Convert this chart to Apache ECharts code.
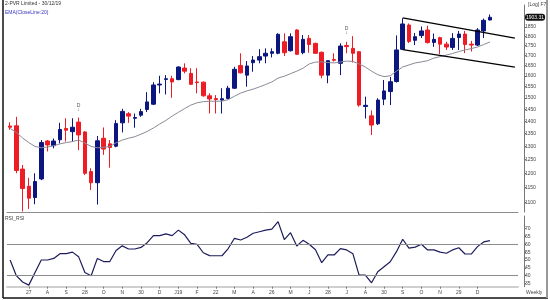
<!DOCTYPE html>
<html><head><meta charset="utf-8">
<script src="https://cdn.jsdelivr.net/npm/echarts@6/dist/echarts.min.js"></script>
<style>html,body{margin:0;padding:0;background:#fff}#c{width:550px;height:300px}</style>
</head><body><div id="c"></div>
<script>
// ---- data (weekly candles) ----
const openP  = [1380,1381,1215,1155,1117,1180,1320,1302,1325,1370,
                1357,1396,1356,1206,1167,1331,1309,1300,1393,1431,
                1412,1425,1449,1472,1558,1584,1587,1583,1638,1612,
                1572,1571,1509,1497,1490,1497,1543,1650,1604,1664,
                1677,1697,1711,1711,1770,1724,1833,1714,1788,1762,
                1716,1604,1680,1661,1751,1736,1719,1462,1422,1389,
                1494,1528,1574,1731,1860,1778,1803,1833,1767,1792,
                1758,1741,1793,1811,1758,1753,1828,1888];
const closeP = [1375,1210,1147,1115,1171,1314,1305,1320,1366,1363,
                1375,1344,1200,1167,1321,1289,1295,1390,1441,1421,
                1415,1440,1482,1558,1562,1587,1572,1643,1623,1561,
                1569,1509,1495,1492,1496,1543,1632,1615,1648,1677,
                1694,1711,1719,1810,1714,1797,1706,1783,1756,1711,
                1604,1674,1676,1748,1745,1711,1468,1467,1384,1490,
                1531,1573,1728,1866,1772,1797,1828,1766,1783,1758,
                1743,1788,1811,1756,1753,1833,1886,1903.31];
const lowP   = [1365,1200,1072,1080,1095,1176,1280,1292,1311,1318,
                1318,1285,1194,1142,1094,1267,1220,1296,1354,1393,
                1373,1418,1438,1468,1520,1515,1500,1580,1612,1558,
                1520,1505,1432,1432,1432,1494,1540,1612,1550,1620,
                1661,1661,1690,1706,1697,1720,1702,1706,1714,1708,
                1589,1566,1670,1604,1711,1665,1461,1411,1344,1384,
                1468,1468,1569,1728,1763,1753,1790,1761,1744,1707,
                1728,1728,1728,1712,1720,1748,1790,1886];
const highP  = [1395,1418,1230,1184,1200,1324,1324,1330,1393,1412,
                1412,1415,1359,1218,1340,1374,1324,1404,1452,1438,
                1432,1452,1525,1571,1601,1604,1601,1646,1661,1637,
                1637,1574,1520,1512,1543,1554,1644,1711,1672,1697,
                1732,1736,1736,1815,1815,1815,1837,1806,1806,1765,
                1720,1677,1711,1762,1770,1800,1722,1505,1445,1498,
                1581,1595,1804,1898,1869,1817,1852,1856,1814,1797,
                1770,1816,1828,1828,1775,1843,1896,1919];
const ema20  = [1370,1354,1332,1314,1299,1294,1297,1302,1309,1314,
                1318,1324,1312,1299,1294,1296,1299,1313,1324,1331,
                1337,1347,1358,1372,1388,1403,1421,1437,1453,1468,
                1478,1483,1485,1485,1485,1492,1507,1521,1531,1539,
                1549,1560,1572,1590,1599,1611,1623,1637,1658,1667,
                1668,1665,1663,1668,1672,1670,1658,1643,1623,1606,
                1597,1601,1623,1643,1653,1663,1668,1674,1687,1694,
                1702,1710,1720,1728,1735,1743,1756,1769];
const rsi    = [50,40,36,34,42,50,50,51,54,54,
                55,52,42,40,51,49,49,56,59,57,
                57,58,61,65.5,65.5,66.6,65.5,69,66,60.6,
                60,54.6,52.8,52.7,52.7,57.3,63.8,62.7,64.5,67,
                68,69,69.7,74.4,63,67.4,58.9,62.5,60,56.5,
                48.3,53.2,53.2,57.2,56.4,54,40.4,40.4,35.5,42.5,
                45.7,48.9,55.3,63.2,57.5,58.2,60,56.4,56.4,55,
                54.3,56.4,57.8,53.8,53.8,58.5,61.5,62.3];
const tickLabels = ['27','A','S','28','O','N','30','D','J19','F','22','M','A','26','M','J','28','J','A','30','S','O','N','29','D'];
const tickFirst = 3, tickStep = 3;
const priceTicks = [1100,1150,1200,1250,1300,1350,1400,1450,1500,1550,1600,1650,1700,1750,1800,1850];
const rsiTicks = [35,40,45,50,55,60,65,70];
const rsiLevels = [40,60];
const upperTrend = [[63,1900],[81,1790]];
const lowerTrend = [[63,1730],[81,1642]];
const divMarkers = [[11,1457],[54,1830]];
const extraSlots = 4;
const priceMin = 1070.2, priceMax = 1973.6;
const rsiMin = 33, rsiMax = 78;

// ---- chart ----
const weeks = Array.from({length: openP.length + extraSlots}, (_, i) => String(i));
const candles = openP.map((o, i) => [o, closeP[i], lowP[i], highP[i]]);
const lastClose = closeP[closeP.length - 1];
const FONT = 'Liberation Sans';
const isTick = (idx) => idx >= tickFirst && (idx - tickFirst) % tickStep === 0 && (idx - tickFirst) / tickStep < tickLabels.length;

const chart = echarts.init(document.getElementById('c'), null, {renderer: 'canvas'});
chart.setOption({
  animation: false,
  backgroundColor: '#fff',
  textStyle: {fontFamily: FONT},
  grid: [
    {left: 7, width: 511, top: 5, height: 207},
    {left: 7, width: 511, top: 216, height: 70.7}
  ],
  xAxis: [
    {type: 'category', gridIndex: 0, data: weeks, boundaryGap: true,
     axisLine: {show: true, onZero: false, lineStyle: {color: '#8c8c8c', width: 1}},
     axisTick: {show: false}, axisLabel: {show: false}, splitLine: {show: false}},
    {type: 'category', gridIndex: 1, data: weeks, boundaryGap: true,
     axisLine: {show: true, onZero: false, lineStyle: {color: '#cfcfcf', width: 2}},
     axisTick: {show: true, alignWithLabel: true, interval: isTick, length: 2, lineStyle: {color: '#777'}},
     axisLabel: {show: true, interval: isTick, fontSize: 5, color: '#444', margin: 3,
                 formatter: (v, idx) => tickLabels[(idx - tickFirst) / tickStep] || ''},
     splitLine: {show: false}}
  ],
  yAxis: [
    {type: 'log', gridIndex: 0, position: 'right', offset: 6, min: priceMin, max: priceMax,
     axisLine: {show: true, lineStyle: {color: '#777', width: 1}},
     axisTick: {show: true, customValues: priceTicks, length: 2, lineStyle: {color: '#777'}},
     axisLabel: {show: true, customValues: priceTicks, fontSize: 5, color: '#444', margin: 1,
                 formatter: (v) => String(Math.round(v))},
     splitLine: {show: false},
     axisPointer: {show: true, type: 'none', value: lastClose, status: 'show', triggerTooltip: false,
                   label: {show: true, backgroundColor: '#111', color: '#fff', fontSize: 5, padding: [1, 1, 1, 1], margin: 1,
                           formatter: (p) => Number(p.value).toFixed(2)}}},
    {type: 'value', gridIndex: 1, position: 'right', offset: 6, min: rsiMin, max: rsiMax,
     axisLine: {show: true, lineStyle: {color: '#777', width: 1}},
     axisTick: {show: true, customValues: rsiTicks, length: 2, lineStyle: {color: '#777'}},
     axisLabel: {show: true, customValues: rsiTicks, fontSize: 5, color: '#444', margin: 1},
     splitLine: {show: false}}
  ],
  series: [
    {type: 'candlestick', xAxisIndex: 0, yAxisIndex: 0, data: candles, barWidth: 4,
     itemStyle: {color: '#0c1680', color0: '#ee1c24', borderColor: '#0c1680', borderColor0: '#ee1c24', borderWidth: 1},
     markLine: {silent: true, symbol: 'none', animation: false,
       lineStyle: {color: '#000', width: 1.3, type: 'solid'}, label: {show: false},
       data: [
         [{coord: upperTrend[0]}, {coord: upperTrend[1]}],
         [{coord: lowerTrend[0]}, {coord: lowerTrend[1]}]
       ]},
     markPoint: {silent: true, symbol: 'circle', symbolSize: 1, itemStyle: {color: 'rgba(0,0,0,0)'},
       label: {show: true, position: 'inside', formatter: 'D\n↓', fontSize: 5, lineHeight: 4, color: '#555'},
       data: divMarkers.map(([i, p]) => ({coord: [i, p]}))}
    },
    {type: 'line', xAxisIndex: 0, yAxisIndex: 0, data: ema20, symbol: 'none', smooth: false,
     lineStyle: {color: '#8a8a98', width: 1}},
    {type: 'line', xAxisIndex: 1, yAxisIndex: 1, data: rsi, symbol: 'none',
     lineStyle: {color: '#1c1c5c', width: 1.2},
     markLine: {silent: true, symbol: 'none', animation: false, label: {show: false},
       lineStyle: {color: '#8c8c8c', width: 1, type: 'solid'},
       data: rsiLevels.map(v => ({yAxis: v}))}}
  ],
  graphic: [
    {type: 'text', left: 5, top: 1.5, style: {text: '2-PVR Limited - 30/12/19', fontSize: 5, fill: '#333', fontFamily: FONT}},
    {type: 'text', left: 5, top: 10.5, style: {text: 'EMA(CloseLine:20)', fontSize: 5, fill: '#3434c4', fontFamily: FONT}},
    {type: 'text', left: 5, top: 216.5, style: {text: 'RSI_RSI', fontSize: 5, fill: '#444', fontFamily: FONT}},
    {type: 'text', left: 528, top: 2, style: {text: '[Log] F7', fontSize: 5, fill: '#444', fontFamily: FONT}},
    {type: 'text', left: 526, top: 290, style: {text: 'Weekly', fontSize: 5, fill: '#444', fontFamily: FONT}},
    {type: 'line', shape: {x1: 3, y1: 0, x2: 3, y2: 298}, style: {stroke: '#111', lineWidth: 1.5}},
    {type: 'line', shape: {x1: 3, y1: 298, x2: 548, y2: 298}, style: {stroke: '#111', lineWidth: 1.5}},
    {type: 'line', shape: {x1: 547, y1: 0, x2: 547, y2: 298}, style: {stroke: '#999', lineWidth: 2}}
  ]
});
</script>
</body></html>
